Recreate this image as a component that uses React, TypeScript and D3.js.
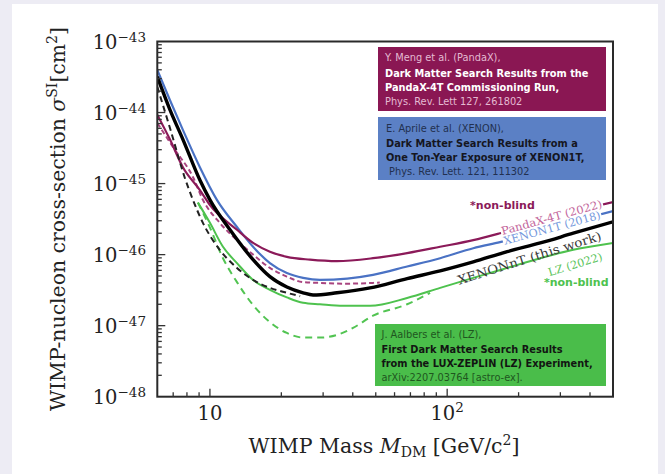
import React from "react";
import * as d3 from "d3";

// ---------------- data ----------------
const xDomain = [6, 500];
const yDomain = [1e-48, 1e-43];
const xMajorTicks = [10, 100];
const xMajorExps = ["", "2"];
const yMajorExps = [-48, -47, -46, -45, -44, -43];

// XENONnT (this work), solid black
const massXENONnT = [6, 6.78, 7.69, 9.07, 10, 12.15, 15.2, 17.9, 21.1, 24.7, 27.2, 34.3, 47.3, 67.8, 93.4, 128.8, 179, 247, 340, 500];
const sigmaXENONnT = [3.2e-44, 1.1e-44, 4.2e-45, 1.12e-45, 5.9e-46, 2.24e-46, 8.5e-47, 4.9e-47, 3.5e-47, 2.9e-47, 2.7e-47, 2.9e-47, 3.4e-47, 4.6e-47, 5.9e-47, 7.9e-47, 1.1e-46, 1.46e-46, 2.0e-46, 2.9e-46];

// XENONnT dashed (black)
const massXENONnTDash = [6, 6.78, 7.84, 8.48, 9.34, 11.0, 13.0, 15.2, 17.9, 21.1, 24.0];
const sigmaXENONnTDash = [2.3e-44, 6.1e-45, 1.2e-45, 5.9e-46, 2.8e-46, 1.17e-46, 6.5e-47, 4.4e-47, 3.4e-47, 2.9e-47, 2.6e-47];

// XENON1T (2018), blue
const massXENON1T = [6, 6.78, 7.69, 9.07, 10.7, 13.0, 15.2, 17.9, 21.1, 24.7, 29.1, 37.9, 48.7, 67.8, 93.4, 128.8, 167, 247, 340, 500];
const sigmaXENON1T = [4.0e-44, 1.5e-44, 5.7e-45, 1.7e-45, 5.9e-46, 2.45e-46, 1.29e-46, 7.6e-47, 5.5e-47, 4.7e-47, 4.4e-47, 4.6e-47, 5.2e-47, 6.8e-47, 8.9e-47, 1.23e-46, 1.5e-46, 2.1e-46, 2.9e-46, 4.1e-46];

// PandaX-4T (2022), solid purple
const massPandaX = [6, 6.78, 7.69, 9.07, 10, 13.0, 15.2, 17.9, 21.1, 26.4, 34.3, 48.7, 67.8, 93.4, 128.8, 167, 247, 340, 500];
const sigmaPandaX = [9.3e-45, 4.2e-45, 1.7e-45, 8.1e-46, 5.0e-46, 2.24e-46, 1.46e-46, 1.1e-46, 9.3e-47, 8.5e-47, 8.1e-47, 8.9e-47, 1.05e-46, 1.29e-46, 1.6e-46, 2.0e-46, 2.9e-46, 4.0e-46, 5.5e-46];

// PandaX-4T dashed
const massPandaXDash = [6, 7.11, 8.48, 9.34, 11.0, 13.0, 15.2, 17.9, 21.1, 24.7, 29.1, 36.4, 48.7, 52];
const sigmaPandaXDash = [7.1e-45, 3.0e-45, 1.24e-45, 5.9e-46, 2.8e-46, 1.6e-46, 1.0e-46, 6.5e-47, 4.9e-47, 4.1e-47, 4.0e-47, 3.9e-47, 4.0e-47, 4.05e-47];

// LZ (2022), solid green
const massLZ = [8.9, 10, 11.35, 13.0, 15.2, 17.9, 21.1, 24.7, 29.1, 36.4, 47.3, 67.8, 93.4, 128.8, 179, 247, 340, 500];
const sigmaLZ = [5.4e-46, 2.8e-46, 1.29e-46, 7.6e-47, 4.4e-47, 3.2e-47, 2.5e-47, 2.1e-47, 2.0e-47, 1.9e-47, 1.9e-47, 2.45e-47, 3.4e-47, 4.7e-47, 6.5e-47, 8.9e-47, 1.17e-46, 1.46e-46];

// LZ dashed
const massLZDash = [8.9, 10, 11.35, 13.0, 15.2, 17.9, 21.1, 24.7, 29.1, 34.3, 40.1, 48.7, 67.8, 84.7];
const sigmaLZDash = [5.4e-46, 2.4e-46, 8.9e-47, 4.1e-47, 1.95e-47, 1.12e-47, 7.9e-48, 6.8e-48, 6.8e-48, 7.4e-48, 9.3e-48, 1.38e-47, 2.0e-47, 2.9e-47];

// curve labels: text, anchor mass, anchor sigma, angle, length
const curveLabels = ["PandaX-4T (2022)", "XENON1T (2018)", "XENONnT (this work)", "LZ (2022)"];
const curveLabelMass = [276, 277, 222, 347];
const curveLabelSigma = [3.3e-46, 2.35e-46, 9.0e-47, 7.2e-47];
const curveLabelAngle = [-15.3, -15.3, -17.5, -17];
const curveLabelLength = [104, 100, 150, 56];
const curveLabelColors = ["#c2649a", "#7397dc", "#3a3a3a", "#5cc45c"];
const curveLabelBoxed = [true, true, false, false];

const nonBlindMass = [171, 350];
const nonBlindSigma = [4.85e-46, 4.06e-47];
const nonBlindColors = ["#8b1a59", "#4ec24e"];

// reference boxes
const boxLines = [
  ["Y. Meng et al. (PandaX),", "Dark Matter Search Results from the", "PandaX-4T Commissioning Run,", "Phys. Rev. Lett 127, 261802"],
  ["E. Aprile et al. (XENON),", "Dark Matter Search Results from a", "One Ton-Year Exposure of XENON1T,", " Phys. Rev. Lett. 121, 111302"],
  ["J. Aalbers et al. (LZ),", "First Dark Matter Search Results", "from the LUX-ZEPLIN (LZ) Experiment,", "arXiv:2207.03764 [astro-ex]."],
];

const SERIF = "'DejaVu Serif', serif";
const SANS = "'DejaVu Sans', sans-serif";

export default function App() {
  const W = 665, H = 474;
  const left = 157.3, right = 613, top = 41.5, bottom = 396.7;
  const x = d3.scaleLog().domain(xDomain).range([left, right]);
  const y = d3.scaleLog().domain(yDomain).range([bottom, top]);

  const path = (ms: number[], ss: number[]) =>
    d3.line<number>()
      .x((_, i) => x(ms[i]))
      .y((_, i) => y(ss[i]))
      .curve(d3.curveMonotoneX)(ms) || "";

  const xTicks = x.ticks().filter((t) => t > xDomain[0] && t < xDomain[1]);
  const yTicks = y.ticks();
  const isMajor = (v: number) => Math.abs(Math.log10(v) - Math.round(Math.log10(v))) < 1e-6;

  const boxes = [
    { x: 378, y: 47, w: 228, h: 64, fill: "#8a1753", c1: "#e4bad2", c2: "#ffffff", tx: 385, base: [61, 76.5, 91, 104.5] },
    { x: 378, y: 117, w: 228, h: 63, fill: "#5b80c5", c1: "#22304f", c2: "#15161f", tx: 386, base: [132, 147, 161, 175] },
    { x: 375, y: 324, w: 231, h: 62, fill: "#4abd4a", c1: "#1f561f", c2: "#121512", tx: 381.5, base: [338, 352.5, 367, 381] },
  ];

  return (
    <svg width={W} height={H} style={{ position: "absolute", left: 0, top: 0 }} xmlns="http://www.w3.org/2000/svg">
      <rect x={0} y={0} width={W} height={H} fill="#edecf4" />
      <rect x={12} y={4} width={646} height={H - 4} fill="#ffffff" />
      <defs>
        <clipPath id="plotclip">
          <rect x={left} y={top} width={right - left} height={bottom - top} />
        </clipPath>
      </defs>

      {/* curves */}
      <g clipPath="url(#plotclip)" fill="none" strokeLinejoin="round">
        <path d={path(massLZDash, sigmaLZDash)} stroke="#52c452" strokeWidth={2} strokeDasharray="7,5" />
        <path d={path(massLZ, sigmaLZ)} stroke="#4ec24e" strokeWidth={2} />
        <path d={path(massPandaXDash, sigmaPandaXDash)} stroke="#a8447f" strokeWidth={2} strokeDasharray="5,3" />
        <path d={path(massXENON1T, sigmaXENON1T)} stroke="#4a72c4" strokeWidth={2.2} />
        <path d={path(massPandaX, sigmaPandaX)} stroke="#8b1a59" strokeWidth={2.2} />
        <path d={path(massXENONnTDash, sigmaXENONnTDash)} stroke="#222" strokeWidth={2} strokeDasharray="6,4" />
        <path d={path(massXENONnT, sigmaXENONnT)} stroke="#000" strokeWidth={3.4} />
      </g>

      {/* curve labels */}
      {curveLabels.map((t, i) => {
        const cx = x(curveLabelMass[i]);
        const cy = y(curveLabelSigma[i]);
        const L = curveLabelLength[i];
        return (
          <g key={t} transform={`rotate(${curveLabelAngle[i]} ${cx} ${cy})`}>
            {curveLabelBoxed[i] ? (
              <rect x={cx - L / 2 - 1} y={cy - 4.5} width={L + 2} height={9} fill="#fff" />
            ) : null}
            <text x={cx} y={cy} textAnchor="middle" dominantBaseline="central"
              fontFamily={SERIF} fontSize={i === 2 ? 12.5 : 11}
              textLength={L} lengthAdjust="spacingAndGlyphs"
              fill={curveLabelColors[i]}>
              {t}
            </text>
          </g>
        );
      })}
      {nonBlindMass.map((m, i) => (
        <text key={"nb" + i} x={x(m)} y={y(nonBlindSigma[i])} textAnchor="middle" dominantBaseline="central"
          fontFamily={SANS} fontWeight="bold" fontSize={11} fill={nonBlindColors[i]}>
          *non-blind
        </text>
      ))}

      {/* reference boxes */}
      {boxes.map((b, bi) => (
        <g key={"box" + bi}>
          <rect x={b.x} y={b.y} width={b.w} height={b.h} fill={b.fill} />
          {boxLines[bi].map((ln, li) => (
            <text key={li} x={b.tx} y={b.base[li]} fontFamily={SANS} fontSize={9.8}
              fontWeight={li === 1 || li === 2 ? "bold" : "normal"}
              fill={li === 1 || li === 2 ? b.c2 : b.c1} style={{ whiteSpace: "pre" }}>
              {ln}
            </text>
          ))}
        </g>
      ))}

      {/* frame */}
      <rect x={left} y={top} width={right - left} height={bottom - top} fill="none" stroke="#2a2a2a" strokeWidth={2} />

      {/* x ticks (inward) */}
      {xTicks.map((t, i) => (
        <line key={"xt" + i} x1={x(t)} x2={x(t)} y1={bottom} y2={bottom - (isMajor(t) ? 8 : 4.5)} stroke="#333" strokeWidth={1.3} />
      ))}
      {/* y ticks (inward) */}
      {yTicks.filter((t) => t > yDomain[0] * 1.01 && t < yDomain[1] * 0.99).map((t, i) => (
        <line key={"yt" + i} x1={left} x2={left + (isMajor(t) ? 8 : 4.5)} y1={y(t)} y2={y(t)} stroke="#333" strokeWidth={1.3} />
      ))}

      {/* x tick labels */}
      {xMajorTicks.map((t, i) => (
        <text key={"xl" + i} x={x(t)} y={420} textAnchor="middle" fontFamily={SERIF} fontSize={19.5} fill="#222">
          10{xMajorExps[i] ? <tspan dy={-8} fontSize={13.5}>{xMajorExps[i]}</tspan> : null}
        </text>
      ))}
      {/* y tick labels */}
      {yMajorExps.map((e, i) => (
        <text key={"yl" + i} x={146} y={y(Math.pow(10, e)) + 7.5} textAnchor="end" fontFamily={SERIF} fontSize={19.5} fill="#222">
          10<tspan dy={-7} fontSize={13.5}>{"\u2212" + Math.abs(e)}</tspan>
        </text>
      ))}

      {/* axis titles */}
      <text x={384} y={453} textAnchor="middle" fontFamily={SERIF} fontSize={20.5} fill="#222">
        WIMP Mass <tspan fontStyle="italic">M</tspan>
        <tspan dy={4} fontSize={14}>DM</tspan>
        <tspan dy={-4}> [GeV/c</tspan>
        <tspan dy={-8} fontSize={14}>2</tspan>
        <tspan dy={8}>]</tspan>
      </text>
      <text transform="translate(65,219) rotate(-90)" x={0} y={0} textAnchor="middle" fontFamily={SERIF} fontSize={20.4} fill="#222">
        WIMP-nucleon cross-section <tspan fontStyle="italic">σ</tspan>
        <tspan dy={-8} fontSize={14}>SI</tspan>
        <tspan dy={8}>[cm</tspan>
        <tspan dy={-8} fontSize={14}>2</tspan>
        <tspan dy={8}>]</tspan>
      </text>
    </svg>
  );
}
